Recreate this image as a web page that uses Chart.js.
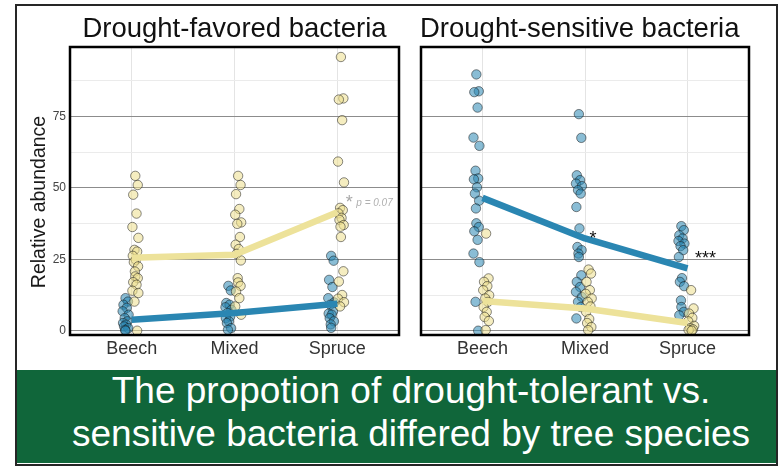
<!DOCTYPE html>
<html>
<head>
<meta charset="utf-8">
<script src="https://cdn.jsdelivr.net/npm/chart.js@4.4.1/dist/chart.umd.min.js"></script>
<style>
  html, body { margin: 0; padding: 0; background: #fff; }
  body { width: 780px; height: 468px; position: relative; overflow: hidden;
         font-family: "Liberation Sans", Arial, Helvetica, sans-serif; }
  #frame { position: absolute; left: 15px; top: 4px; width: 759px; height: 458px;
           border: 2px solid #262626; }
  #banner { position: absolute; left: 17px; top: 370px; width: 759px; height: 93px;
            background: #10663a; }
  .bline { position: absolute; left: 21px; width: 780px; text-align: center; color: #fff;
           font-size: 37px; line-height: 37px; white-space: nowrap; }
  #cl { position: absolute; left: 16px; top: 0; }
  #cr { position: absolute; left: 406px; top: 0; }
</style>
</head>
<body>
<div id="frame"></div>
<div id="banner"></div>
<div class="bline" style="top:372px">The propotion of drought-tolerant vs.</div>
<div class="bline" style="top:415px">sensitive bacteria differed by tree species</div>
<canvas id="cl" width="390" height="365"></canvas>
<canvas id="cr" width="372" height="365"></canvas>
<script>
// Forest types on the x axis and the y axis tick values
const categories = ['Beech', 'Mixed', 'Spruce'];
const yTickValues = [0, 25, 50, 75];
const yMinorValues = [12.5, 37.5, 62.5, 87.5];

// Drought-favored bacteria: relative abundance per plot (drought = yellow, control = blue)
const favDroughtBeech  = [54.2, 51.0, 47.6, 41.0, 36.3, 32.5, 28.3, 27.7, 26.2, 24.8, 24.0, 22.5, 20.7, 19.0, 18.4, 17.0, 16.1, 14.0, 13.2, 10.2, 0.0];
const favDroughtMixed  = [54.2, 51.0, 47.8, 42.6, 40.6, 37.9, 37.4, 32.8, 30.1, 28.6, 26.9, 24.6, 18.4, 16.9, 15.7, 13.7, 11.4, 8.5, 5.6];
const favDroughtSpruce = [95.8, 81.3, 80.9, 73.7, 59.2, 51.9, 43.0, 42.2, 41.1, 39.5, 38.8, 37.0, 36.4, 32.8, 20.8, 17.2, 12.5, 11.2, 10.0, 8.5];
const favControlBeech  = [11.4, 10.2, 9.1, 8.0, 6.8, 5.6, 4.4, 3.3, 2.7, 2.1, 1.5, 0.9, 0.3, 0.0];
const favControlMixed  = [15.7, 14.1, 9.7, 9.1, 8.2, 7.3, 6.2, 5.0, 4.4, 3.3, 2.7, 0.9, 0.3];
const favControlSpruce = [26.2, 24.5, 17.8, 15.3, 11.4, 9.9, 9.1, 6.8, 6.0, 5.6, 4.4, 3.3, 2.2, 1.0];
const favDroughtMean   = [25.5, 26.6, 41.5];
const favControlMean   = [3.8, 6.2, 9.4];

// Drought-sensitive bacteria: relative abundance per plot
const senDroughtBeech  = [34.0, 18.3, 17.1, 15.6, 14.2, 12.4, 11.3, 10.1, 8.3, 6.6, 4.8, 3.4, 0.2];
const senDroughtMixed  = [21.4, 20.0, 17.1, 14.2, 12.9, 11.3, 10.1, 8.5, 6.6, 4.1, 2.7, 1.3, 0.2];
const senDroughtSpruce = [14.2, 7.8, 6.0, 4.5, 3.3, 1.7, 0.9, 0.5, 0.3, 0.0];
const senControlBeech  = [89.7, 83.8, 83.5, 78.1, 67.6, 64.7, 56.0, 53.3, 53.0, 50.2, 48.0, 45.5, 42.8, 37.6, 36.3, 34.8, 31.8, 27.0, 24.0, 10.1, 0.0];
const senControlMixed  = [75.8, 67.5, 54.4, 52.7, 51.5, 50.6, 49.2, 48.0, 43.3, 35.8, 29.3, 28.2, 27.0, 25.8, 19.4, 17.1, 15.3, 13.6, 11.8, 10.1, 8.3, 4.3];
const senControlSpruce = [36.6, 35.2, 33.4, 32.3, 31.4, 30.5, 29.6, 28.2, 25.8, 18.4, 17.1, 15.6, 10.6, 8.3, 6.6, 5.4];
const senDroughtMean   = [10.4, 7.8, 2.7];
const senControlMean   = [46.5, 32.3, 21.8];

const FONT = '"Liberation Sans", Arial, Helvetica, sans-serif';
const YELLOW_LINE = '#ede29a';
const YELLOW_FILL = 'rgba(236, 222, 140, 0.55)';
const BLUE_LINE = '#2a86b2';
const BLUE_FILL = 'rgba(42, 134, 178, 0.55)';
const POINT_EDGE = 'rgba(20, 20, 20, 0.5)';

// fixed horizontal spread for points inside a column, plus a side offset per group
const SPREAD = [0, 0.024, -0.02, 0.012, -0.028, 0.03, -0.008, 0.018, -0.024, 0.006, -0.014, 0.027, -0.004];
const DODGE = { drought: 0.035, control: -0.06 };

function jittered(columns, side) {
  const pts = [];
  columns.forEach((vals, ci) => {
    vals.forEach((v, j) => {
      pts.push({ x: ci + 1 + DODGE[side] + SPREAD[j % SPREAD.length], y: v });
    });
  });
  return pts;
}
function meanLine(means) {
  return means.map((m, i) => ({ x: i + 1, y: m }));
}

function pointSet(data, fill, order) {
  return { data, backgroundColor: fill, borderColor: POINT_EDGE, borderWidth: 1,
           pointRadius: 4.7, pointHoverRadius: 4.7, showLine: false, clip: false, order };
}
function lineSet(data, color) {
  return { data, borderColor: color, borderWidth: 6.5, pointRadius: 0, showLine: true,
           borderJoinStyle: 'round', borderCapStyle: 'butt', clip: false, order: 0 };
}

const allYTicks = [...yTickValues, ...yMinorValues].sort((a, b) => a - b);

// frame, panel title, axis title and significance marks
const panelDecor = {
  id: 'panelDecor',
  afterDatasetsDraw(chart, args, opts) {
    const { ctx, chartArea: a, scales } = chart;
    ctx.save();
    ctx.strokeStyle = '#000';
    ctx.lineWidth = 2.5;
    ctx.strokeRect(a.left, a.top, a.right - a.left, a.bottom - a.top);

    ctx.fillStyle = '#111';
    ctx.font = '27.5px ' + FONT;
    ctx.textBaseline = 'alphabetic';
    if (opts.titleAlign === 'center') {
      ctx.textAlign = 'center';
      ctx.fillText(opts.title, (a.left + a.right) / 2, a.top - 9.7);
    } else {
      ctx.textAlign = 'left';
      ctx.fillText(opts.title, a.left - 1, a.top - 9.7);
    }

    if (opts.yTitle) {
      ctx.save();
      ctx.translate(28.5, (a.top + a.bottom) / 2 + 11);
      ctx.rotate(-Math.PI / 2);
      ctx.textAlign = 'center';
      ctx.font = '19.5px ' + FONT;
      ctx.fillStyle = '#1a1a1a';
      ctx.fillText(opts.yTitle, 0, 0);
      ctx.restore();
    }

    (opts.notes || []).forEach(n => {
      const x = scales.x.getPixelForValue(n.cat) + n.dx;
      const y = scales.y.getPixelForValue(n.value) + n.dy;
      ctx.font = n.font;
      ctx.fillStyle = n.color;
      ctx.textAlign = n.align;
      ctx.textBaseline = 'alphabetic';
      ctx.fillText(n.text, x, y);
    });
    ctx.restore();
  }
};

function makeChart(id, datasets, opt) {
  return new Chart(document.getElementById(id), {
    type: 'scatter',
    data: { datasets },
    options: {
      responsive: false,
      animation: false,
      events: [],
      layout: { padding: opt.padding },
      plugins: { legend: { display: false }, tooltip: { enabled: false }, panelDecor: opt.decor },
      scales: {
        x: {
          type: 'linear', min: 0.4, max: 3.6,
          afterBuildTicks: s => { s.ticks = categories.map((c, i) => ({ value: i + 1 })); },
          afterFit: s => { s.height = 30; },
          ticks: { callback: v => categories[v - 1], font: { size: 18, family: FONT },
                   color: '#333', padding: 3, autoSkip: false, maxRotation: 0 },
          grid: { color: '#e4e4e4', lineWidth: 1, drawTicks: false },
          border: { display: false }
        },
        y: {
          type: 'linear', min: -1.5, max: 99.3,
          afterBuildTicks: s => { s.ticks = allYTicks.map(v => ({ value: v })); },
          afterFit: s => { s.width = opt.yWidth; },
          ticks: { display: opt.yLabels, callback: v => yTickValues.includes(v) ? String(v) : '',
                   font: { size: 12, family: FONT }, color: '#444', padding: 4 },
          grid: { color: c => yTickValues.includes(c.tick.value) ? '#8c8c8c' : '#ebebeb',
                  lineWidth: 1, drawTicks: false },
          border: { display: false }
        }
      }
    },
    plugins: [panelDecor]
  });
}

makeChart('cl', [
  lineSet(meanLine(favDroughtMean), YELLOW_LINE),
  lineSet(meanLine(favControlMean), BLUE_LINE),
  pointSet(jittered([favDroughtBeech, favDroughtMixed, favDroughtSpruce], 'drought'), YELLOW_FILL, 1),
  pointSet(jittered([favControlBeech, favControlMixed, favControlSpruce], 'control'), BLUE_FILL, 2)
], {
  padding: { left: 0, right: 7, top: 47, bottom: 0 },
  yWidth: 54, yLabels: true,
  decor: {
    title: 'Drought-favored bacteria', titleAlign: 'center', yTitle: 'Relative abundance',
    notes: [
      { text: '*', cat: 3, dx: 12, value: 46.4, dy: 10, font: '18px ' + FONT, color: '#a8a8a8', align: 'center' },
      { text: 'p = 0.07', cat: 3, dx: 19, value: 45.0, dy: 3.5, font: 'italic 10px ' + FONT, color: '#b0b0b0', align: 'left' }
    ]
  }
});

makeChart('cr', [
  lineSet(meanLine(senControlMean), BLUE_LINE),
  lineSet(meanLine(senDroughtMean), YELLOW_LINE),
  pointSet(jittered([senDroughtBeech, senDroughtMixed, senDroughtSpruce], 'drought'), YELLOW_FILL, 1),
  pointSet(jittered([senControlBeech, senControlMixed, senControlSpruce], 'control'), BLUE_FILL, 2)
], {
  padding: { left: 15, right: 29, top: 47, bottom: 0 },
  yWidth: 0, yLabels: false,
  decor: {
    title: 'Drought-sensitive bacteria', titleAlign: 'left',
    notes: [
      { text: '*', cat: 2, dx: 8, value: 34.0, dy: 10, font: '18px ' + FONT, color: '#111', align: 'center' },
      { text: '***', cat: 3, dx: 18, value: 26.8, dy: 10, font: '18px ' + FONT, color: '#111', align: 'center' }
    ]
  }
});
</script>
</body>
</html>
